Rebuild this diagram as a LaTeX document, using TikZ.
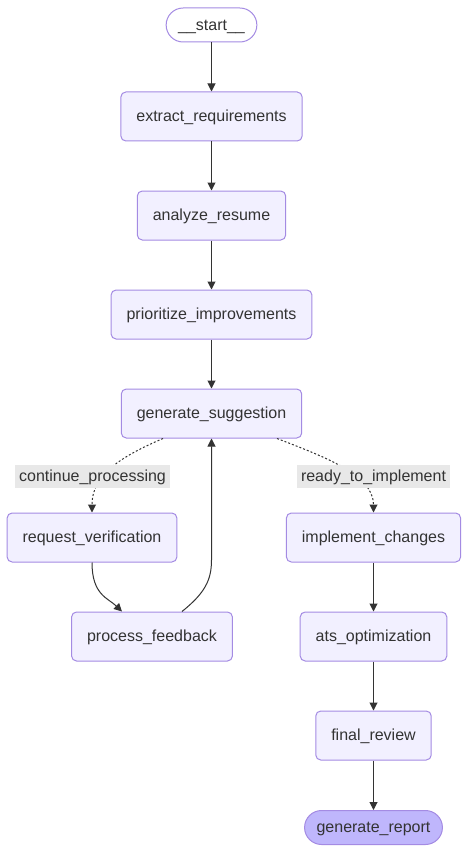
\documentclass[tikz,border=0pt]{standalone}
\usepackage{fontspec}
\setmainfont{Liberation Sans}
\usetikzlibrary{arrows.meta}

\definecolor{nodefill}{HTML}{F2F0FF}
\definecolor{nodeline}{HTML}{A48BE3}
\definecolor{endfill}{HTML}{BFB6FC}
\definecolor{inkgrey}{HTML}{333333}
\definecolor{labelgrey}{HTML}{E8E8E8}

\begin{document}
\begin{tikzpicture}[x=1pt,y=-1pt,
  box/.style={draw=nodeline,line width=1pt,fill=nodefill,rounded corners=5pt,
    minimum height=49pt,inner xsep=15.5pt,text height=14pt,text depth=3.5pt,
    text=inkgrey,font=\fontsize{16}{19}\selectfont},
  pill/.style={box,rounded corners=17pt,minimum height=34pt,inner xsep=12pt},
  edgelabel/.style={fill=labelgrey,minimum height=23pt,inner xsep=4pt,inner ysep=2pt,
    text height=14pt,text depth=3.5pt,text=inkgrey,font=\fontsize{16}{19}\selectfont},
  flow/.style={draw=inkgrey,line width=1pt,-{Triangle[length=8pt,width=8pt]}},
  maybe/.style={flow,dash pattern=on 2pt off 2pt}]

\fill[white] (0,0) rectangle (469,853);

\node[pill,fill=white] (start) at (211.5,25) {\_\_start\_\_};
\node[box] (extract) at (211.5,116.5) {extract\_requirements};
\node[box] (analyze) at (211.5,215.5) {analyze\_resume};
\node[box] (prior) at (211.5,314.5) {prioritize\_improvements};
\node[box] (gensug) at (211.5,413.5) {generate\_suggestion};
\node[box] (reqver) at (92,537.5) {request\_verification};
\node[box] (procfb) at (152,636.5) {process\_feedback};
\node[box] (implch) at (373.5,537.5) {implement\_changes};
\node[box] (atsopt) at (373.5,636.5) {ats\_optimization};
\node[box] (finrev) at (373.5,735.5) {final\_review};
\node[pill,fill=endfill] (report) at (373.5,827.5) {generate\_report};

\draw[flow] (start) -- (extract);
\draw[flow] (extract) -- (analyze);
\draw[flow] (analyze) -- (prior);
\draw[flow] (prior) -- (gensug);

% conditional branches
\draw[maybe] ([xshift=-48.5pt]gensug.south) .. controls (120,457) and (92,475) .. (reqver.north);
\draw[maybe] ([xshift=65.5pt]gensug.south) .. controls (325,457) and (373.5,475) .. (implch.north);
\node[edgelabel] (lblcont) at (92.5,476) {continue\_processing};
\node[edgelabel] (lblready) at (373.5,476) {ready\_to\_implement};

% feedback loop
\draw[flow] (reqver.south) .. controls (92,595) and (108,598) .. ([xshift=-30pt]procfb.north);
\draw[flow] ([xshift=30pt]procfb.north) .. controls (205,593) and (211.5,580) .. (211.5,560) -- (gensug.south);

\draw[flow] (implch) -- (atsopt);
\draw[flow] (atsopt) -- (finrev);
\draw[flow] (finrev) -- (report);
\end{tikzpicture}
\end{document}
